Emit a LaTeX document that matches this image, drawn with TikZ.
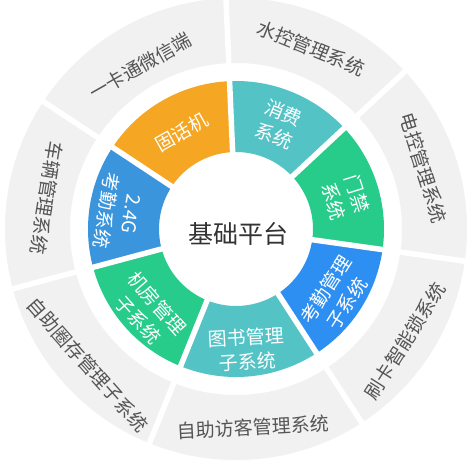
\documentclass[tikz,border=0pt]{standalone}
\usepackage{fontspec}
\newfontfamily\cjk{Noto Sans CJK SC}
\definecolor{cOrange}{HTML}{F5A623}
\definecolor{cTeal}{HTML}{53C3C6}
\definecolor{cGreen}{HTML}{27CC8B}
\definecolor{cBlueA}{HTML}{3A95DD}
\definecolor{cBlueB}{HTML}{2E8FF2}
\definecolor{cGray}{HTML}{F1F1F1}
\definecolor{cText}{HTML}{555555}
\definecolor{cCenter}{HTML}{333333}
\newcommand\mysector[5]{\fill[#1] (#2:#4) arc[start angle=#2, end angle=#3, radius=#4] -- (#3:#5) arc[start angle=#3, end angle=#2, radius=#5] -- cycle;}
\tikzset{
  innerlabel/.style={font=\cjk\fontsize{19}{25}\selectfont, text=white, align=center, inner sep=0pt},
  outerlabel/.style={font=\cjk\fontsize{19}{25}\selectfont, text=cText, align=center, inner sep=0pt},
  centerlabel/.style={font=\cjk\fontsize{25}{30}\selectfont, text=cCenter, inner sep=0pt},
  gapline/.style={white, line width=5.5pt}
}
\begin{document}
\begin{tikzpicture}[x=1pt,y=1pt]
\useasboundingbox (-236,-234) rectangle (237,229);
\fill[white] (-236,-234) rectangle (237,229);
% outer gray ring
\mysector{cGray}{-180}{180}{166}{231}
% inner coloured ring
\mysector{cTeal}{43}{92.5}{77}{148}
\mysector{cGreen}{-8}{43}{77}{148}
\mysector{cBlueB}{-57}{-8}{77}{148}
\mysector{cTeal}{-112}{-57}{77}{148}
\mysector{cGreen}{-165}{-112}{77}{148}
\mysector{cBlueA}{146.5}{195}{77}{148}
\mysector{cOrange}{92.5}{146.5}{77}{148}
% gaps
\foreach \a in {92.5,43,-8,-57,-112,-165,146.5}{
  \draw[gapline] (\a:60) -- (\a:240);
}
% centre
\node[centerlabel] (center) at (2,-5) {基础平台};
% inner labels
\node[innerlabel, rotate=-22.25] (xf) at (67.75:113) {消费\\系统};
\node[innerlabel, rotate=-72.5] (mj) at (16:114) {门禁\\系统};
\node[innerlabel, rotate=57.5] (kq) at (-34:121) {考勤管理\\子系统};
\node[innerlabel, rotate=3] (ts) at (-85:121) {图书管理\\子系统};
\node[innerlabel, rotate=-48.5] (jf) at (-137:121) {机房管理\\子系统};
\node[innerlabel, rotate=-99.25] (kq2) at (172:119) {2.4G\\考勤系统};
\node[innerlabel, rotate=29.5] (gh) at (119.5:111) {固话机};
% outer labels
\node[outerlabel, rotate=-22.25] (sk) at (67.5:196) {水控管理系统};
\node[outerlabel, rotate=-72.5] (dk) at (18:197) {电控管理系统};
\node[outerlabel, rotate=57.5] (sz) at (-33.5:203) {刷卡智能锁系统};
\node[outerlabel, rotate=3] (fk) at (-85:199) {自助访客管理系统};
\node[outerlabel, rotate=-48.5] (qc) at (-137.5:201) {自助圈存管理子系统};
\node[outerlabel, rotate=-99.25] (cl) at (170.75:192) {车辆管理系统};
\node[outerlabel, rotate=29.5] (yk) at (120.5:189) {一卡通微信端};
\end{tikzpicture}
\end{document}
